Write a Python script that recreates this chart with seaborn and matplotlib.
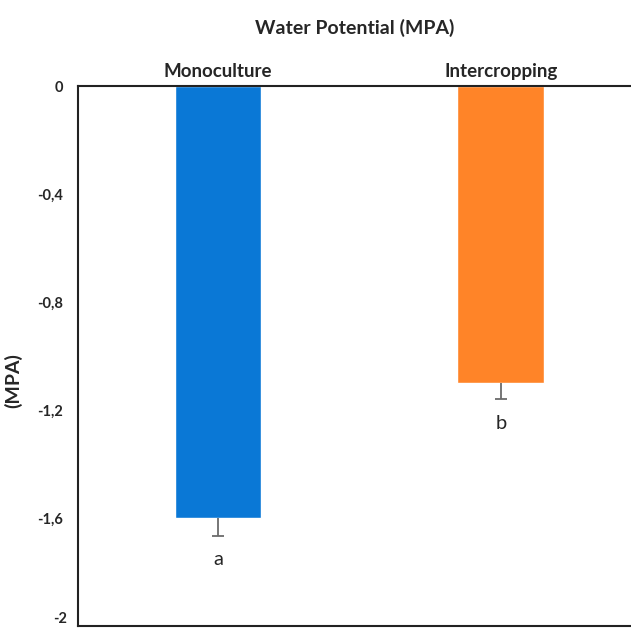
import numpy as np
import pandas as pd
import matplotlib.pyplot as plt
import seaborn as sns

categories = ["Monoculture", "Intercropping"]
values = [-1.60, -1.10]
errors = [0.065, 0.06]
letters = ["a", "b"]
colors = ["#0A78D6", "#FF8428"]
yticks = [0, -0.4, -0.8, -1.2, -1.6, -2]

sns.set_style("white")
plt.rcParams['font.family'] = ['Lato', 'DejaVu Sans']

df = pd.DataFrame({"system": categories, "mpa": values})

fig = plt.figure(figsize=(6.31, 6.31), dpi=100)
ax = fig.add_axes([0.1236, 0.0079, 0.8764, 0.8558])

sns.barplot(data=df, x="system", y="mpa", hue="system", palette=colors,
            width=0.307, saturation=1, legend=False, ax=ax)

# one-sided (downward) error bars, cap only at the lower end
x = np.arange(len(categories))
low = np.array(values) - np.array(errors)
ax.vlines(x, low, values, color="#6b6b6b", lw=1.3)
ax.hlines(low, x - 0.022, x + 0.022, color="#6b6b6b", lw=1.3)

for xi, lo, lab in zip(x, low, letters):
    ax.text(xi, lo - 0.09, lab, ha="center", va="center", fontsize=14.5)

ax.set_xlim(-0.495, 1.46)
ax.set_ylim(-2, 0)
ax.set_yticks(yticks)
ytl = [("%g" % t).replace(".", ",") for t in yticks]
# bottom label is drawn separately, lifted a little so it stays inside the figure
ax.set_yticklabels(ytl[:-1] + [""], fontsize=10.5, fontweight="bold")
ax.annotate(ytl[-1], xy=(0, yticks[-1]), xycoords=ax.get_yaxis_transform(),
            xytext=(-8, 5), textcoords="offset points", ha="right", va="center",
            fontsize=10.5, fontweight="bold", annotation_clip=False)
ax.xaxis.tick_top()
ax.set_xticks(x)
ax.set_xticklabels(categories, fontsize=13.5, fontweight="bold")
ax.tick_params(axis="y", length=0, pad=11)
ax.tick_params(axis="x", length=0, pad=4)
ax.set_xlabel("")
ax.set_ylabel("(MPA)", fontsize=14, fontweight="bold")
ax.yaxis.set_label_coords(-0.1, 0.455)

for side in ["left", "top", "bottom"]:
    ax.spines[side].set_visible(True)
    ax.spines[side].set_color("#222222")
    ax.spines[side].set_linewidth(1.5)
ax.spines["right"].set_visible(False)

fig.text(0.562, 0.955, "Water Potential (MPA)", ha="center", va="center",
         fontsize=14, fontweight="bold")

plt.savefig("out.png", dpi=100)
